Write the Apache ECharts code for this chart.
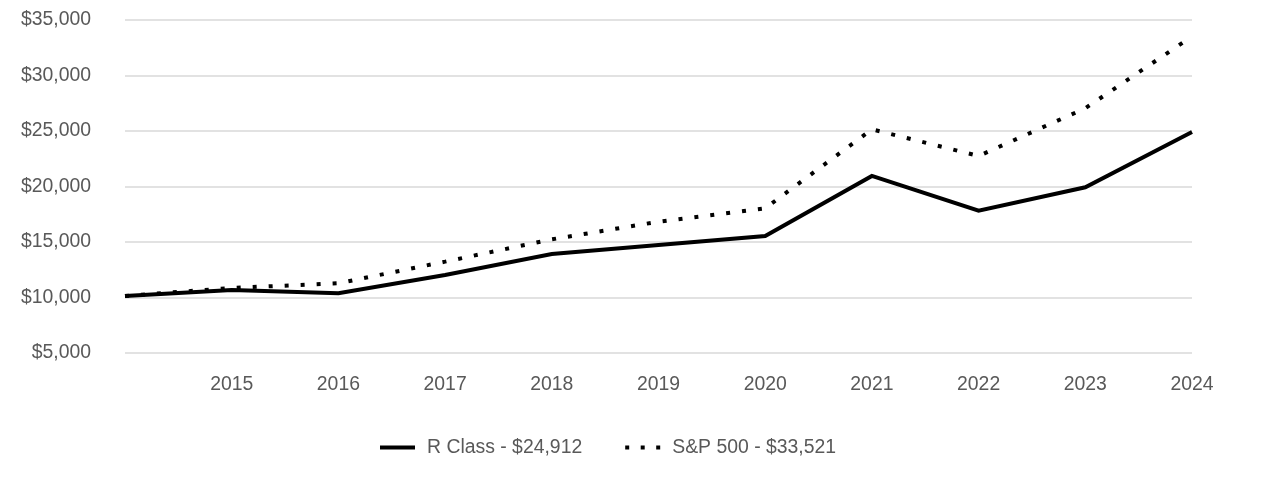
<!DOCTYPE html>
<html>
<head>
<meta charset="utf-8">
<script src="https://cdn.jsdelivr.net/npm/echarts@6/dist/echarts.min.js"></script>
<style>
html,body{margin:0;padding:0;background:#fff;}
#chart{width:1286px;height:480px;}
</style>
</head>
<body>
<div id="chart"></div>
<script>
const categories = ['', '2015', '2016', '2017', '2018', '2019', '2020', '2021', '2022', '2023', '2024'];
const rClass = [10140, 10680, 10380, 12030, 13920, 14730, 15540, 20950, 17820, 19930, 24912];
const sp500 = [10140, 10860, 11280, 13230, 15240, 16830, 18040, 25150, 22750, 27050, 33521];
const seriesNames = ['R Class - $24,912', 'S&P 500 - $33,521'];

const FONT = "'Liberation Sans', Arial, sans-serif";
const TEXT = '#595959';
const FS = 19.4;

const chart = echarts.init(document.getElementById('chart'));
chart.setOption({
  animation: false,
  backgroundColor: '#fff',
  grid: { left: 125, right: 94, top: 20, bottom: 127, containLabel: false },
  legend: {
    left: 375, top: 433,
    itemWidth: 35, itemHeight: 4, itemGap: 43,
    textStyle: { color: TEXT, fontSize: FS, fontFamily: FONT, padding: [0, 0, 0, 7] },
    data: [
      { name: seriesNames[0], icon: 'path://M0,0h35v4h-35z' },
      { name: seriesNames[1], icon: 'path://M0,0h4v4h-4z M15.5,0h4v4h-4z M31,0h4v4h-4z' }
    ]
  },
  xAxis: {
    type: 'category',
    data: categories,
    boundaryGap: false,
    axisLine: { show: false },
    axisTick: { show: false },
    axisLabel: { color: TEXT, fontSize: FS, fontFamily: FONT, margin: 22, interval: 0 }
  },
  yAxis: {
    type: 'value',
    min: 5000, max: 35000, interval: 5000,
    axisLine: { show: false },
    axisTick: { show: false },
    splitLine: { lineStyle: { color: '#d9d9d9', width: 1.5 } },
    axisLabel: {
      color: TEXT, fontSize: FS, fontFamily: FONT, margin: 34,
      formatter: v => '$' + v.toLocaleString('en-US')
    }
  },
  series: [
    {
      name: seriesNames[0], type: 'line', data: rClass,
      symbol: 'none', color: '#000',
      lineStyle: { color: '#000', width: 4, cap: 'butt', join: 'miter' }
    },
    {
      name: seriesNames[1], type: 'line', data: sp500,
      symbol: 'none', color: '#000',
      lineStyle: { color: '#000', width: 4, type: [4, 12], cap: 'butt' }
    }
  ]
});
</script>
</body>
</html>
